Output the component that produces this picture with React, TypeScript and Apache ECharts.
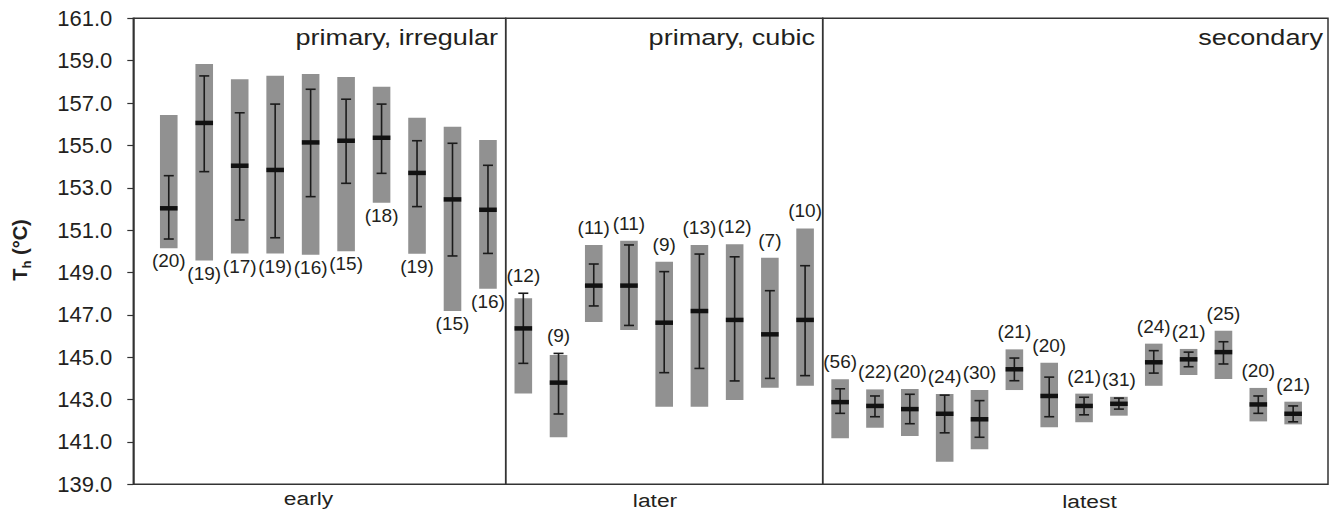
import { useEffect, useRef } from "react";
import * as echarts from "echarts";

// Homogenisation temperatures (°C) per sample: range, mean ± 1σ and number of inclusions
const earlyCount = [20, 19, 17, 19, 16, 15, 18, 19, 15, 16];
const earlyMean = [152.03, 156.06, 154.04, 153.84, 155.14, 155.22, 155.36, 153.7, 152.45, 151.96];
const earlySdLow = [150.58, 153.76, 151.48, 150.64, 152.58, 153.21, 153.68, 152.11, 149.78, 149.9];
const earlySdHigh = [153.57, 158.28, 156.54, 156.95, 157.65, 157.18, 156.95, 155.22, 155.1, 154.06];
const earlyMin = [150.14, 149.56, 149.9, 149.9, 149.84, 150.0, 152.29, 149.89, 147.18, 148.23];
const earlyMax = [156.43, 158.84, 158.12, 158.29, 158.37, 158.23, 157.77, 156.31, 155.88, 155.25];

const laterCount = [12, 9, 11, 11, 9, 13, 12, 7, 10];
const laterMean = [146.36, 143.8, 148.38, 148.38, 146.63, 147.18, 146.76, 146.08, 146.76];
const laterSdLow = [144.71, 142.32, 147.42, 146.5, 144.27, 144.47, 143.88, 144.0, 144.13];
const laterSdHigh = [148.02, 145.18, 149.4, 150.3, 149.04, 149.87, 149.74, 148.14, 149.32];
const laterMin = [143.29, 141.22, 146.66, 146.28, 142.66, 142.66, 142.98, 143.56, 143.65];
const laterMax = [147.78, 145.1, 150.3, 150.5, 149.51, 150.3, 150.33, 149.7, 151.08];

const latestCount = [56, 22, 20, 24, 30, 21, 20, 21, 31, 24, 21, 25, 20, 21];
const latestMean = [142.88, 142.7, 142.55, 142.33, 142.07, 144.43, 143.17, 142.7, 142.8, 144.76, 144.9, 145.24, 142.77, 142.33];
const latestSdLow = [142.35, 142.19, 141.86, 141.43, 141.22, 143.89, 142.19, 142.28, 142.55, 144.25, 144.55, 144.68, 142.35, 141.95];
const latestSdHigh = [143.51, 143.17, 143.25, 143.21, 142.95, 144.96, 144.06, 143.11, 143.07, 145.31, 145.24, 145.73, 143.17, 142.7];
const latestMin = [141.17, 141.67, 141.28, 140.07, 140.65, 143.45, 141.69, 141.93, 142.24, 143.65, 144.16, 143.97, 141.97, 141.83];
const latestMax = [143.96, 143.48, 143.5, 143.26, 143.45, 145.37, 144.74, 143.28, 143.13, 145.64, 145.39, 146.25, 143.55, 142.9];

const yTicks = [139, 141, 143, 145, 147, 149, 151, 153, 155, 157, 159, 161];
const panelTitles = ["primary, irregular", "primary, cubic", "secondary"];
const panelNames = ["early", "later", "latest"];

const FONT = "'Liberation Sans', Arial, Helvetica, sans-serif";
const TEXT = "#231f20";

type Panel = {
  count: number[];
  mean: number[];
  sdLow: number[];
  sdHigh: number[];
  min: number[];
  max: number[];
};

const panels: Panel[] = [
  { count: earlyCount, mean: earlyMean, sdLow: earlySdLow, sdHigh: earlySdHigh, min: earlyMin, max: earlyMax },
  { count: laterCount, mean: laterMean, sdLow: laterSdLow, sdHigh: laterSdHigh, min: laterMin, max: laterMax },
  { count: latestCount, mean: latestMean, sdLow: latestSdLow, sdHigh: latestSdHigh, min: latestMin, max: latestMax },
];

// layout of the three framed panels (pixels) and their x extents (slot units)
const gridLayout = [
  { left: 133.3, width: 372.4, xMin: 0, xMax: 10.5 },
  { left: 505.7, width: 317, xMin: 0.5, xMax: 9.5 },
  { left: 822.7, width: 505.3, xMin: 0.5, xMax: 15 },
];
const labelsAbove = [false, true, true];
const titleRight = [498, 815, 1323];
const nameCenters = [
  { x: 308.5, y: 498.6 },
  { x: 655, y: 500.5 },
  { x: 1089.5, y: 501.5 },
];

function makeRenderItem(above: boolean) {
  return (_params: any, api: any) => {
    const x = api.value(0);
    const pMin = api.coord([x, api.value(1)]);
    const pMax = api.coord([x, api.value(2)]);
    const pLo = api.coord([x, api.value(3)]);
    const pHi = api.coord([x, api.value(4)]);
    const pMean = api.coord([x, api.value(5)]);
    const n = api.value(6);
    const cx = pMin[0];
    const half = 8.8;
    const cap = 5;
    const top = Math.min(pMax[1], pHi[1]);
    const bottom = Math.max(pMin[1], pLo[1]);
    const labelY = above ? top - 17.6 : bottom + 12.6;
    const ink = "#1b1b1b";
    return {
      type: "group",
      children: [
        {
          type: "rect",
          shape: { x: cx - half, y: pMax[1], width: half * 2, height: pMin[1] - pMax[1] },
          style: { fill: "#919191" },
        },
        {
          type: "line",
          shape: { x1: cx, y1: pHi[1], x2: cx, y2: pLo[1] },
          style: { stroke: ink, lineWidth: 1.6 },
        },
        {
          type: "line",
          shape: { x1: cx - cap, y1: pHi[1], x2: cx + cap, y2: pHi[1] },
          style: { stroke: ink, lineWidth: 1.6 },
        },
        {
          type: "line",
          shape: { x1: cx - cap, y1: pLo[1], x2: cx + cap, y2: pLo[1] },
          style: { stroke: ink, lineWidth: 1.6 },
        },
        {
          type: "line",
          shape: { x1: cx - half, y1: pMean[1], x2: cx + half, y2: pMean[1] },
          style: { stroke: "#111", lineWidth: 4.5 },
        },
        {
          type: "text",
          x: cx,
          y: labelY,
          style: {
            text: `(${n})`,
            fill: TEXT,
            font: `19px ${FONT}`,
            align: "center",
            verticalAlign: "middle",
          },
        },
      ],
    };
  };
}

export default function App() {
  const ref = useRef<HTMLDivElement>(null);

  useEffect(() => {
    if (!ref.current) return;
    const chart = echarts.init(ref.current, undefined, { renderer: "svg" });

    const grids = gridLayout.map((g) => ({
      left: g.left,
      width: g.width,
      top: 18.3,
      height: 466,
      show: true,
      borderColor: "#333",
      borderWidth: 1.5,
      backgroundColor: "transparent",
      containLabel: false,
      outerBoundsMode: "none",
    }));

    const xAxes = gridLayout.map((g, i) => ({
      type: "value",
      gridIndex: i,
      min: g.xMin,
      max: g.xMax,
      show: false,
    }));

    const yAxes = gridLayout.map((_g, i) => ({
      type: "value",
      gridIndex: i,
      min: 139,
      max: 161,
      interval: 2,
      show: i === 0,
      axisLine: { show: true, lineStyle: { color: "#333", width: 1.5 } },
      axisTick: {
        show: true,
        inside: false,
        length: 6,
        lineStyle: { color: "#333", width: 1.2 },
        customValues: yTicks,
      },
      axisLabel: {
        show: true,
        margin: 21,
        color: TEXT,
        fontSize: 22,
        fontFamily: FONT,
        customValues: yTicks,
        formatter: (v: number) => v.toFixed(1),
      },
      splitLine: { show: false },
    }));

    const series = panels.map((p, i) => ({
      type: "custom",
      xAxisIndex: i,
      yAxisIndex: i,
      clip: false,
      renderItem: makeRenderItem(labelsAbove[i]),
      encode: { x: 0, y: [1, 2, 3, 4, 5] },
      data: p.count.map((n, k) => [k + 1, p.min[k], p.max[k], p.sdLow[k], p.sdHigh[k], p.mean[k], n]),
    }));

    const titleTexts = panelTitles.map((t, i) => ({
      type: "text",
      x: titleRight[i],
      y: 37,
      scaleX: 1.23,
      style: {
        text: t,
        fill: TEXT,
        font: `22px ${FONT}`,
        align: "right",
        verticalAlign: "middle",
      },
    }));

    const nameTexts = panelNames.map((t, i) => ({
      type: "text",
      x: nameCenters[i].x,
      y: nameCenters[i].y,
      scaleX: 1.2,
      style: {
        text: t,
        fill: TEXT,
        font: `19px ${FONT}`,
        align: "center",
        verticalAlign: "middle",
      },
    }));

    chart.setOption({
      animation: false,
      backgroundColor: "#ffffff",
      grid: grids,
      xAxis: xAxes,
      yAxis: yAxes,
      series,
      graphic: [
        ...titleTexts,
        ...nameTexts,
        {
          type: "text",
          x: 20,
          y: 250,
          rotation: Math.PI / 2,
          style: {
            text: "{a|T}{b|h}{a| (°C)}",
            align: "center",
            verticalAlign: "middle",
            rich: {
              a: { fontSize: 20, fontWeight: "bold", fontFamily: FONT, fill: TEXT, lineHeight: 26 },
              b: { fontSize: 13, fontWeight: "bold", fontFamily: FONT, fill: TEXT, lineHeight: 13, verticalAlign: "bottom" },
            },
          },
        },
      ],
    });

    return () => chart.dispose();
  }, []);

  return (
    <div
      ref={ref}
      style={{ position: "absolute", left: 0, top: 0, width: 1340, height: 514 }}
    />
  );
}
